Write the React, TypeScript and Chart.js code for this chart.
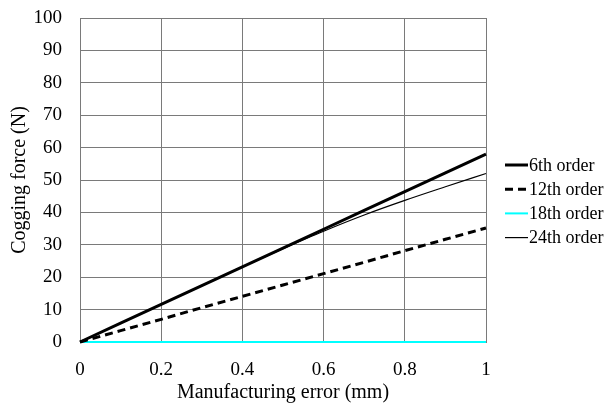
import React, { useEffect, useRef } from "react";
import { Chart, registerables } from "chart.js";

Chart.register(...registerables);

const errorMm = [0, 0.1, 0.2, 0.3, 0.4, 0.5, 0.6, 0.7, 0.8, 0.9, 1.0];
const order6 = [0, 5.8, 11.6, 17.4, 23.2, 29.0, 34.8, 40.6, 46.4, 52.2, 58];
const order12 = [0, 3.5, 7.0, 10.6, 14.1, 17.6, 21.1, 24.6, 28.2, 31.7, 35.2];
const order18 = [0, 0, 0, 0, 0, 0, 0, 0, 0, 0, 0];
const order24 = [0, 5.8, 11.6, 17.4, 23.2, 28.8, 34.2, 39.2, 43.7, 47.9, 52.0];
const seriesLabels = ["6th order", "12th order", "18th order", "24th order"];

const FONT = "'Liberation Serif', 'Times New Roman', serif";

const legendPlugin = {
  id: "sideLegend",
  afterDraw(chart: any) {
    const ctx = chart.ctx;
    const area = chart.chartArea;
    const x0 = area.right + 19;
    const y0 = 165;
    const gap = 24.2;
    ctx.save();
    chart.data.datasets.forEach((ds: any, i: number) => {
      const y = y0 + i * gap;
      ctx.beginPath();
      ctx.strokeStyle = ds.borderColor;
      ctx.lineWidth = ds.borderWidth;
      ctx.setLineDash(ds.borderDash || []);
      ctx.moveTo(x0, y);
      ctx.lineTo(x0 + 23, y);
      ctx.stroke();
      ctx.setLineDash([]);
      ctx.fillStyle = "#000";
      ctx.font = `18px ${FONT}`;
      ctx.textBaseline = "middle";
      ctx.textAlign = "left";
      ctx.fillText(ds.label, x0 + 24, y + 1);
    });
    ctx.restore();
  },
};

export default function App() {
  const ref = useRef<HTMLCanvasElement>(null);
  useEffect(() => {
    const pts = (ys: number[]) => errorMm.map((x, i) => ({ x, y: ys[i] }));
    const chart = new Chart(ref.current!, {
      type: "line",
      data: {
        datasets: [
          { label: seriesLabels[0], data: pts(order6), borderColor: "#000", borderWidth: 3, pointRadius: 0, clip: false as any },
          { label: seriesLabels[1], data: pts(order12), borderColor: "#000", borderWidth: 3, borderDash: [8, 5], pointRadius: 0, clip: false as any },
          { label: seriesLabels[2], data: pts(order18), borderColor: "#00ffff", borderWidth: 2, pointRadius: 0, clip: false as any },
          { label: seriesLabels[3], data: pts(order24), borderColor: "#000", borderWidth: 1.2, pointRadius: 0, cubicInterpolationMode: "monotone", clip: false as any },
        ],
      },
      options: {
        animation: false,
        responsive: false,
        layout: { padding: { top: 18, right: 130, bottom: 0, left: 8 } },
        plugins: { legend: { display: false }, tooltip: { enabled: false } },
        scales: {
          x: {
            type: "linear",
            min: 0,
            max: 1,
            ticks: {
              stepSize: 0.2,
              color: "#000",
              font: { family: FONT, size: 19 },
              padding: 17,
              callback: (v: any) => String(Math.round(Number(v) * 10) / 10),
            },
            grid: { color: "#7a7a7a", drawTicks: false, lineWidth: 1 },
            border: { color: "#7a7a7a" },
            title: { display: true, text: "Manufacturing error (mm)", color: "#000", font: { family: FONT, size: 20 }, padding: { top: 1, bottom: -1 } },
            afterFit: (s: any) => {
              s.height = 62;
              s.paddingLeft = 0;
              s.paddingRight = 0;
            },
          },
          y: {
            min: 0,
            max: 100,
            ticks: { stepSize: 10, color: "#000", font: { family: FONT, size: 19 }, padding: 18 },
            grid: { color: "#7a7a7a", drawTicks: false, lineWidth: 1 },
            border: { color: "#7a7a7a" },
            title: { display: true, text: "Cogging force (N)", color: "#000", font: { family: FONT, size: 20 }, padding: { top: 0, bottom: 1 } },
            afterFit: (s: any) => {
              s.width = 72;
              s.paddingTop = 0;
              s.paddingBottom = 0;
            },
          },
        },
      },
      plugins: [legendPlugin],
    });
    return () => chart.destroy();
  }, []);
  return (
    <div style={{ position: "fixed", left: 0, top: 0, width: 616, height: 404, background: "#fff" }}>
      <canvas ref={ref} width={616} height={404} style={{ width: 616, height: 404 }} />
    </div>
  );
}
